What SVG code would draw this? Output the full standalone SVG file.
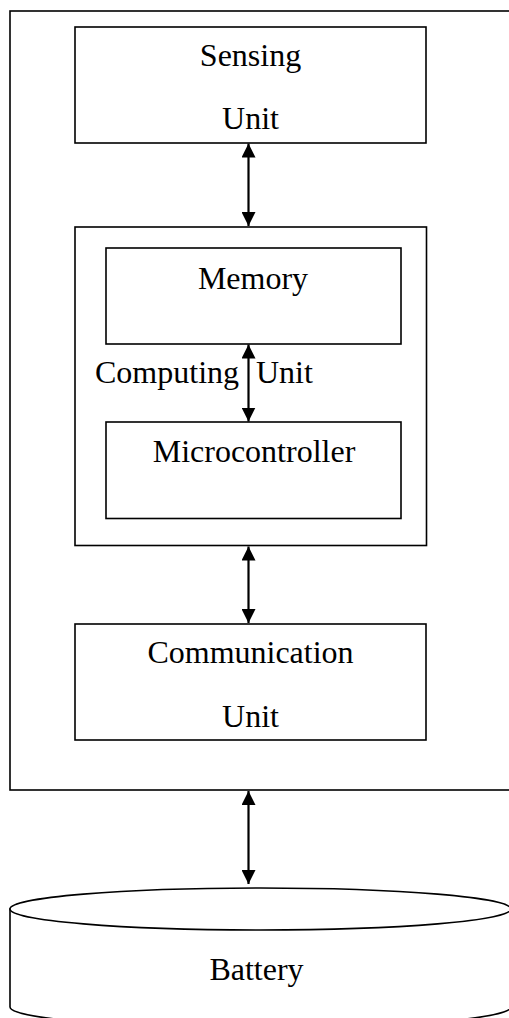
<svg xmlns="http://www.w3.org/2000/svg" width="509" height="1018" viewBox="0 0 509 1018">
<style>
.box{fill:#fff;stroke:#000;stroke-width:1.6}
.frame{fill:none;stroke:#000;stroke-width:1.6}
.lbl{font-family:"Liberation Serif","Times New Roman",serif;font-size:32px;fill:#000}
.c{text-anchor:middle}
.conn{stroke:#000;stroke-width:2.2;fill:none;marker-start:url(#ah);marker-end:url(#ah)}
</style>
<defs>
<marker id="ah" markerUnits="userSpaceOnUse" markerWidth="14" markerHeight="14" refX="14" refY="7" orient="auto-start-reverse">
<path d="M0,0 L14,7 L0,14 z" fill="#000"/>
</marker>
</defs>
<g id="sensor-node">
<rect class="frame" x="10" y="11" width="530" height="779"/>
</g>
<g id="sensing-unit">
<rect class="box" x="75" y="27" width="351" height="116"/>
<text class="lbl c" x="250.5" y="66">Sensing</text>
<text class="lbl c" x="250.5" y="129">Unit</text>
</g>
<g id="computing-unit">
<rect class="box" x="75" y="227" width="351.5" height="318.5"/>
<text class="lbl" y="382.5"><tspan x="95">Computing</tspan><tspan x="256">Unit</tspan></text>
</g>
<g id="memory">
<rect class="box" x="106" y="248" width="295" height="96"/>
<text class="lbl c" x="253" y="289">Memory</text>
</g>
<g id="microcontroller">
<rect class="box" x="106" y="422" width="295" height="96.5"/>
<text class="lbl c" x="254" y="461.5">Microcontroller</text>
</g>
<g id="communication-unit">
<rect class="box" x="75" y="624" width="351" height="116"/>
<text class="lbl c" x="250.5" y="663">Communication</text>
<text class="lbl c" x="250.5" y="727">Unit</text>
</g>
<g id="battery">
<path class="box" d="M10,909 L10,1007 A250.5,21 0 0 0 511,1007 L511,909 Z"/>
<ellipse class="box" cx="260.5" cy="909" rx="250.5" ry="21"/>
<text class="lbl c" x="256.5" y="980">Battery</text>
</g>
<g id="connectors">
<line class="conn" x1="248.5" y1="143.5" x2="248.5" y2="226"/>
<line class="conn" x1="248.5" y1="344.5" x2="248.5" y2="421.5"/>
<line class="conn" x1="248.5" y1="546.5" x2="248.5" y2="623"/>
<line class="conn" x1="248.5" y1="791" x2="248.5" y2="884"/>
</g>
</svg>
